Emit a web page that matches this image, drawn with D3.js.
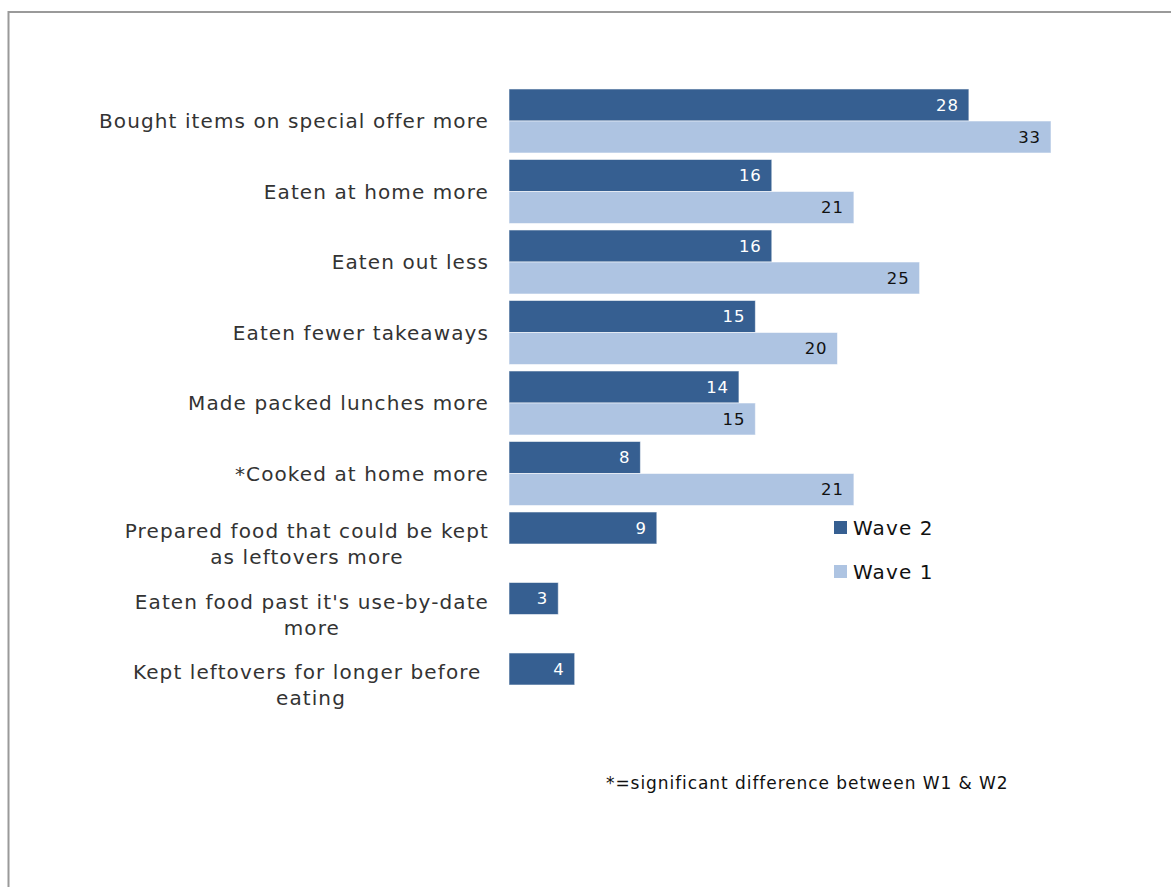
<!DOCTYPE html>
<html>
<head>
<meta charset="utf-8">
<script src="https://cdn.jsdelivr.net/npm/d3@7"></script>
<style>
  html, body { margin: 0; padding: 0; background: #fff; }
  svg { display: block; }
  text { font-family: "DejaVu Sans", Verdana, sans-serif; letter-spacing: 0.055em; }
</style>
</head>
<body>
<svg id="chart" width="1171" height="887"></svg>
<script>
// Category labels (line breaks mark wrapped label lines)
const categories = [
  "Bought items on special offer more",
  "Eaten at home more",
  "Eaten out less",
  "Eaten fewer takeaways",
  "Made packed lunches more",
  "*Cooked at home more",
  "Prepared food that could be kept\nas leftovers more",
  "Eaten food past it's use-by-date\nmore",
  "Kept leftovers for longer before \neating"
];
const seriesNames = ["Wave 2", "Wave 1"];
const wave2 = [28, 16, 16, 15, 14, 8, 9, 3, 4];
const wave1 = [33, 21, 25, 20, 15, 21, null, null, null];
const footnote = "*=significant difference between W1 & W2";

const colors = { "Wave 2": "#365F91", "Wave 1": "#AEC4E2" };
const labelColors = { "Wave 2": "#ffffff", "Wave 1": "#111111" };

const svg = d3.select("#chart");

// outer frame
svg.append("rect")
  .attr("x", 8.5).attr("y", 12)
  .attr("width", 1300).attr("height", 1000)
  .attr("fill", "none")
  .attr("stroke", "#9a9a9a")
  .attr("stroke-width", 2);

const x0 = 509;
const x = d3.scaleLinear().domain([0, 33]).range([x0, 1051]);

const y = d3.scaleBand()
  .domain(categories)
  .range([85.75, 720.25])
  .paddingInner(0.092)
  .paddingOuter(0.046);

const ySeries = d3.scaleBand()
  .domain(seriesNames)
  .range([0, y.bandwidth()]);

const rows = categories.map((c, i) => ({
  cat: c,
  values: [
    { series: "Wave 2", value: wave2[i] },
    { series: "Wave 1", value: wave1[i] }
  ].filter(d => d.value !== null)
}));

const groups = svg.append("g").selectAll("g.group")
  .data(rows)
  .join("g")
  .attr("class", "group")
  .attr("transform", d => `translate(0,${y(d.cat)})`);

groups.selectAll("rect")
  .data(d => d.values)
  .join("rect")
  .attr("x", x0)
  .attr("y", d => ySeries(d.series))
  .attr("width", d => x(d.value) - x0)
  .attr("height", ySeries.bandwidth())
  .attr("fill", d => colors[d.series])
  .attr("stroke", "rgba(255,255,255,0.55)")
  .attr("stroke-width", 1);

groups.selectAll("text.val")
  .data(d => d.values)
  .join("text")
  .attr("class", "val")
  .attr("x", d => x(d.value) - 10)
  .attr("y", d => ySeries(d.series) + ySeries.bandwidth() / 2)
  .attr("dy", "0.36em")
  .attr("text-anchor", "end")
  .attr("font-size", 16.5)
  .attr("fill", d => labelColors[d.series])
  .text(d => d.value);

// category labels: right edge of the widest line at the label edge, lines centred
const labelRight = 489;
const lineH = 26;
svg.append("g").selectAll("text.cat")
  .data(categories)
  .join("text")
  .attr("class", "cat")
  .attr("font-size", 20)
  .attr("fill", "#333333")
  .attr("text-anchor", "middle")
  .style("white-space", "pre")
  .each(function(c) {
    const t = d3.select(this);
    const lines = c.split("\n");
    const cy = y(c) + y.bandwidth() / 2;
    const spans = lines.map((ln, i) =>
      t.append("tspan")
        .attr("y", cy + (i - (lines.length - 1) / 2) * lineH)
        .attr("dy", "0.35em")
        .text(ln));
    const maxW = d3.max(spans, s => s.node().getComputedTextLength());
    if (lines.length === 1) {
      t.attr("text-anchor", "end");
      spans.forEach(s => s.attr("x", labelRight));
    } else {
      spans.forEach(s => s.attr("x", labelRight - maxW / 2));
    }
  });

// legend
const legend = svg.append("g").attr("transform", "translate(834,521)");
seriesNames.forEach((s, i) => {
  const g = legend.append("g").attr("transform", `translate(0,${i * 44})`);
  g.append("rect").attr("width", 13).attr("height", 13).attr("fill", colors[s]);
  g.append("text")
    .attr("x", 19).attr("y", 6.5).attr("dy", "0.36em")
    .attr("font-size", 20).attr("fill", "#111")
    .text(s);
});

// footnote
svg.append("text")
  .attr("x", 606).attr("y", 789)
  .attr("font-size", 17).attr("fill", "#111")
  .text(footnote);
</script>
</body>
</html>
